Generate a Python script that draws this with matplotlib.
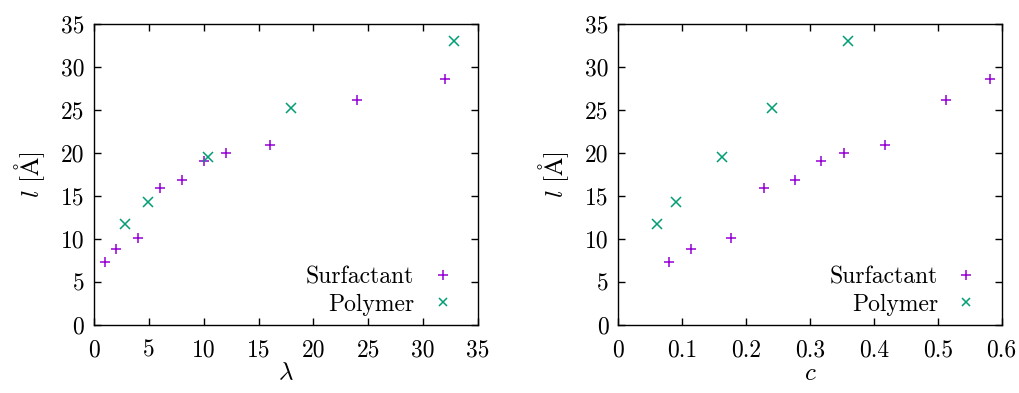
import matplotlib
matplotlib.use('Agg')
import matplotlib.pyplot as plt

plt.rcParams['font.family'] = 'serif'
plt.rcParams['font.serif'] = ['cmr10']
plt.rcParams['mathtext.fontset'] = 'cm'
plt.rcParams['axes.formatter.use_mathtext'] = True
plt.rcParams['font.size'] = 17

# surfactant data
surf_lam = [1, 2, 4, 6, 8, 10, 12, 16, 24, 32]
surf_c = [0.080, 0.114, 0.176, 0.228, 0.276, 0.317, 0.354, 0.417, 0.513, 0.582]
surf_l = [7.3, 8.8, 10.1, 15.9, 16.9, 19.1, 20.0, 20.9, 26.2, 28.6]

# polymer data
poly_lam = [2.85, 4.9, 10.4, 17.95, 32.8]
poly_c = [0.061, 0.091, 0.162, 0.240, 0.360]
poly_l = [11.7, 14.3, 19.5, 25.2, 33.0]

purple = '#9400d3'
green = '#009e73'

fig = plt.figure(figsize=(10.2, 3.93), dpi=100)
ax1 = fig.add_axes([0.0922, 0.173, 0.3764, 0.766])
ax2 = fig.add_axes([0.606, 0.173, 0.376, 0.766])

panels = [
    (ax1, surf_lam, poly_lam, r'$\lambda$', (0, 35), range(0, 40, 5)),
    (ax2, surf_c, poly_c, r'$c$', (0, 0.6), [0, 0.1, 0.2, 0.3, 0.4, 0.5, 0.6]),
]

for ax, xs, xp, xlabel, xlim, xticks in panels:
    ax.plot(xs, surf_l, linestyle='none', marker='+', color=purple,
            markersize=7.5, markeredgewidth=1.1, label='Surfactant')
    ax.plot(xp, poly_l, linestyle='none', marker='x', color=green,
            markersize=6.5, markeredgewidth=1.1, label='Polymer')
    ax.set_xlim(*xlim)
    ax.set_ylim(0, 35)
    ax.set_xticks(list(xticks))
    ax.set_yticks(range(0, 40, 5))
    ax.set_xticklabels([f'{t:g}' for t in xticks])
    ax.set_yticklabels([str(t) for t in range(0, 40, 5)])
    ax.tick_params(direction='in', top=True, right=True, length=5, width=1, pad=7)
    ax.tick_params(axis='x', pad=10)
    for s in ax.spines.values():
        s.set_linewidth(1.0)
    ax.set_xlabel(xlabel, fontsize=18, labelpad=1)
    ax.set_ylabel(r'$l$ [$\mathrm{\AA}$]', fontsize=18, labelpad=10)
    ax.legend(loc='lower right', markerfirst=False, frameon=False,
              handlelength=2.2, handletextpad=0.1, labelspacing=0.2,
              borderpad=0.3, borderaxespad=0.1, fontsize=17, markerscale=0.9)

fig.savefig('out.png', dpi=100)
